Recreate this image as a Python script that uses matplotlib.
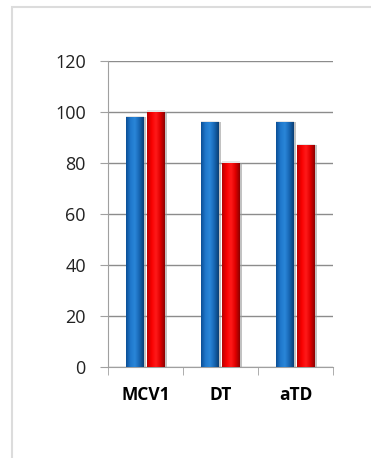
import numpy as np
import matplotlib.pyplot as plt
from matplotlib.patches import Rectangle
from matplotlib.colors import LinearSegmentedColormap

# data
categories = ['MCV1', 'DT', 'aTD']
blue_vals = [98, 96, 96]
red_vals = [100, 80, 87]
y_ticks = [0, 20, 40, 60, 80, 100, 120]

fig = plt.figure(figsize=(3.71, 4.58), dpi=100)
fig.patch.set_facecolor('white')

# light grey chart frame (only left and top edges show)
frame = Rectangle((12 / 371, -0.1), 1.5, (458 - 7) / 458 + 0.1,
                  transform=fig.transFigure, fill=False,
                  edgecolor='#dcdcdc', linewidth=1.5)
fig.patches.append(frame)

ax = fig.add_axes([108 / 371, 1 - 367 / 458, 225 / 371, 306 / 458])

x = np.arange(len(categories))
w = 0.24
gap = 0.02

blue_bars = ax.bar(x - w / 2 - gap, blue_vals, width=w, color='#1b6dbd',
                   linewidth=0, zorder=3)
red_bars = ax.bar(x + w / 2 + gap, red_vals, width=w, color='#f20000',
                  linewidth=0, zorder=3)

# horizontal gradient to mimic the bevelled 3d bars
blue_cmap = LinearSegmentedColormap.from_list(
    'b', ['#0b4f96', '#1f78cc', '#2a86d8', '#1766b3', '#0a3f75'])
red_cmap = LinearSegmentedColormap.from_list(
    'r', ['#b80000', '#f80000', '#ff1a1a', '#e00000', '#8c0000'])
grad = np.linspace(0, 1, 64).reshape(1, -1)
for bars, cmap in [(blue_bars, blue_cmap), (red_bars, red_cmap)]:
    for b in bars:
        x0, hgt, bw = b.get_x(), b.get_height(), b.get_width()
        # soft grey shadow on the right
        ax.add_patch(Rectangle((x0 + bw, 0), bw * 0.1, hgt,
                               color='#9a9a9a', alpha=0.6, lw=0, zorder=2))
        # light top cap
        ax.add_patch(Rectangle((x0, hgt), bw, 0.6, color='#e6e6e6',
                               lw=0, zorder=4))
        ax.imshow(grad, cmap=cmap, aspect='auto', zorder=3.5,
                  extent=(x0, x0 + bw, 0, hgt), interpolation='bilinear')

ax.set_xlim(-0.5, len(categories) - 0.5)
ax.set_ylim(0, 120)
ax.set_yticks(y_ticks)
ax.set_xticks(x)
ax.set_xticklabels(categories, fontweight='bold', fontsize=12.5, family='Open Sans')
for lbl in ax.get_yticklabels():
    lbl.set_family('Open Sans')
    lbl.set_fontsize(13)
    lbl.set_color('#222222')

# category separators as minor ticks
ax.set_xticks(np.arange(len(categories) + 1) - 0.5, minor=True)
ax.tick_params(axis='x', which='major', length=0, pad=14)
ax.tick_params(axis='x', which='minor', length=6, color='#a0a0a0')
ax.tick_params(axis='y', length=6, color='#a0a0a0', pad=10)

ax.yaxis.grid(True, color='#8c8c8c', linewidth=1.0, zorder=0)
ax.set_axisbelow(True)
for s in ['top', 'right']:
    ax.spines[s].set_visible(False)
ax.spines['left'].set_color('#a0a0a0')
ax.spines['bottom'].set_color('#a0a0a0')

fig.savefig('out.png', dpi=100)
